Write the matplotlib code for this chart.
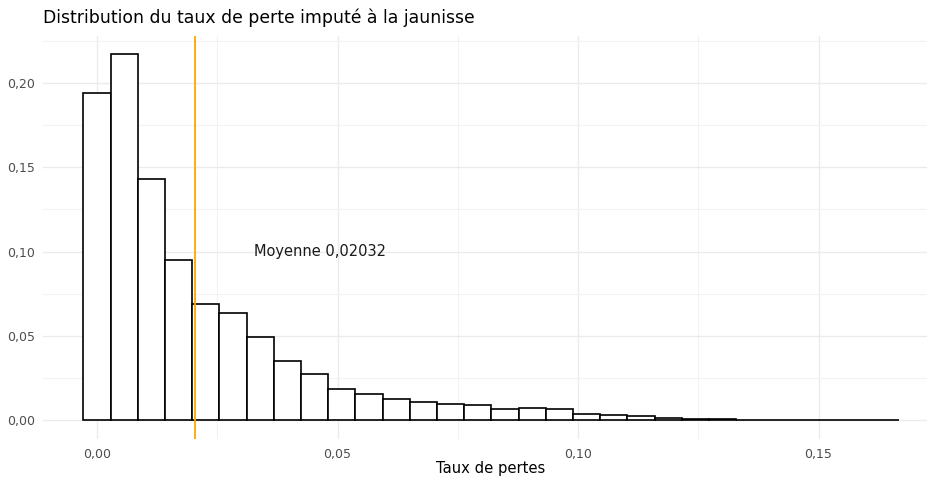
import numpy as np
import matplotlib
matplotlib.use("Agg")
import matplotlib.pyplot as plt
from matplotlib.ticker import MultipleLocator, FuncFormatter

bin_width = 0.005655
proportions = [0.1937, 0.2168, 0.1431, 0.0950, 0.0689, 0.0636, 0.0493, 0.0351,
               0.0272, 0.0184, 0.0156, 0.0126, 0.0110, 0.0099, 0.0093, 0.0069,
               0.0073, 0.0065, 0.0039, 0.0034, 0.0024, 0.0013, 0.0008, 0.0007,
               0.0003, 0.0003, 0.0001, 0.0001, 0.0001, 0.0001]
mean_loss = 0.02032
label_pos = (0.0464, 0.10)

title = "Distribution du taux de perte imputé à la jaunisse"
xlabel = "Taux de pertes"

plt.rcParams['font.family'] = ['DejaVu Sans']

W, H = 928, 479
fig = plt.figure(figsize=(W / 100, H / 100), dpi=100)
# panel runs past the right border, like the original
ax = fig.add_axes([43 / W, 1 - 438.7 / H, (940 - 43) / W, (438.7 - 36) / H])

lefts = -bin_width / 2 + bin_width * np.arange(len(proportions))
ax.bar(lefts, proportions, width=bin_width, align='edge', color='white',
       edgecolor='black', linewidth=1.2, zorder=2)
ax.axvline(mean_loss, color='orange', linewidth=1.3, zorder=3)
ax.text(label_pos[0], label_pos[1], f"Moyenne {mean_loss:.5f}".replace('.', ','),
        ha='center', va='center', fontsize=10.5, color='#1a1a1a', zorder=4)

ax.set_xlim(-0.01123, 0.17526)
ax.set_ylim(-0.0109, 0.2277)

ax.xaxis.set_major_locator(MultipleLocator(0.05))
ax.xaxis.set_minor_locator(MultipleLocator(0.025))
ax.yaxis.set_major_locator(MultipleLocator(0.05))
ax.yaxis.set_minor_locator(MultipleLocator(0.025))
fmt = FuncFormatter(lambda v, p: f"{v:.2f}".replace('.', ','))
ax.xaxis.set_major_formatter(fmt)
ax.yaxis.set_major_formatter(fmt)

ax.grid(which='major', color='#ebebeb', linewidth=1.0, zorder=0)
ax.grid(which='minor', color='#f2f2f2', linewidth=0.8, zorder=0)
ax.set_axisbelow(True)
for s in ax.spines.values():
    s.set_visible(False)
ax.tick_params(which='both', length=0, labelsize=9, labelcolor='#4d4d4d')
ax.tick_params(axis='y', pad=6)
ax.tick_params(axis='x', pad=7)

ax.set_xlabel(xlabel, fontsize=10.6, color='black')
ax.xaxis.set_label_coords((491 - 43) / (940 - 43), -(468 - 438.7) / (438.7 - 36))
ax.xaxis.label.set_va('center')

fig.text(43 / W, 1 - 18 / H, title, ha='left', va='center', fontsize=12.4, color='black')

fig.savefig("out.png", dpi=100, facecolor='white')
